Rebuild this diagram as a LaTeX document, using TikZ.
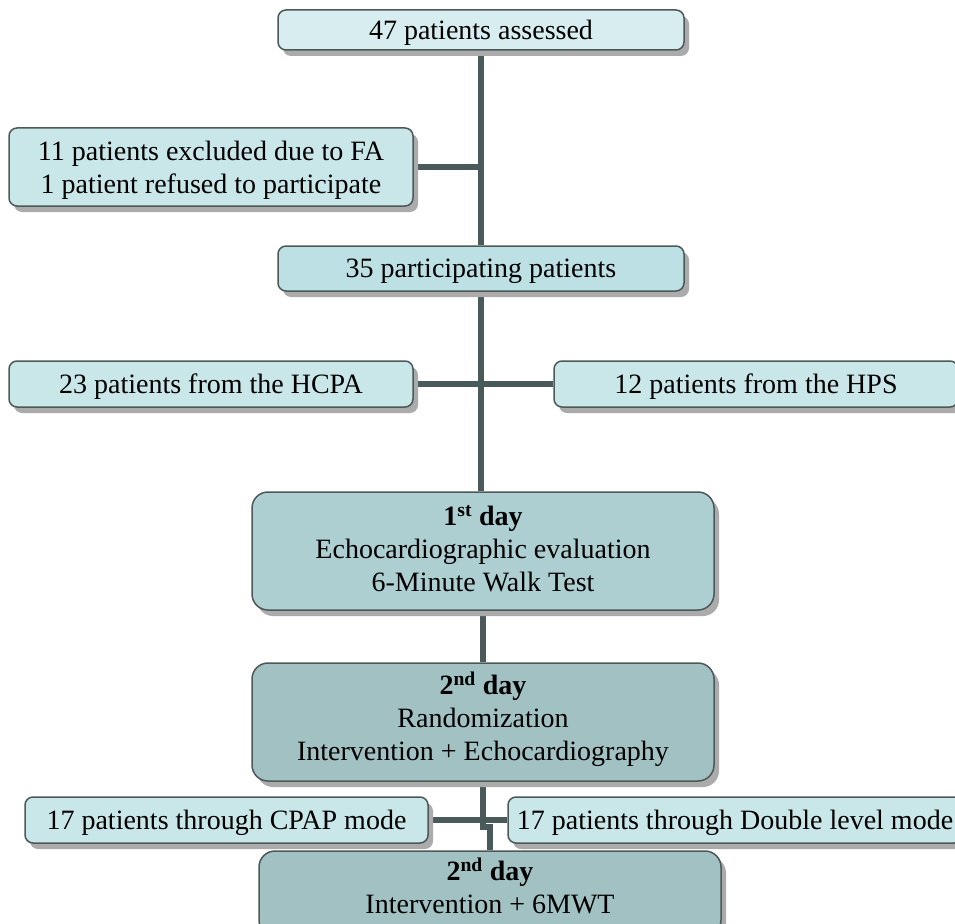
\documentclass[tikz,border=0pt]{standalone}
\usepackage{fontspec}
\setmainfont{Liberation Serif}
\usetikzlibrary{shadows,backgrounds}
\definecolor{edge}{HTML}{4D5858}
\definecolor{linkcol}{HTML}{4A5959}
\definecolor{shade}{HTML}{ABABAB}
\definecolor{fillA}{HTML}{D8EDF0}
\definecolor{fillB}{HTML}{C9E6E9}
\definecolor{fillC}{HTML}{BCE0E3}
\definecolor{fillD}{HTML}{ADCFD2}
\definecolor{fillE}{HTML}{A2C1C3}
\begin{document}
\begin{tikzpicture}[x=1pt,y=-1pt,
  box/.style={draw=edge,line width=1.5pt,rounded corners=8pt,inner sep=0pt,align=center,
    text depth=0pt,font=\fontsize{28}{33}\selectfont,
    drop shadow={shadow xshift=5pt,shadow yshift=-6pt,fill=shade,opacity=1}},
  daybox/.style={box,rounded corners=16pt,minimum width=462pt},
  link/.style={draw=linkcol,line width=5.5pt}]
\clip (0,0) rectangle (955,923);
\node[box,fill=fillA,minimum width=406pt,minimum height=40pt] (assessed) at (481,30) {47 patients assessed};
\node[box,fill=fillB,minimum width=404pt,minimum height=78pt] (excluded) at (211,167) {11 patients excluded due to FA\\1 patient refused to participate};
\node[box,fill=fillC,minimum width=406pt,minimum height=45pt] (particip) at (481,268.5) {35 participating patients};
\node[box,fill=fillB,minimum width=404pt,minimum height=46pt] (hcpa) at (211,384) {23 patients from the HCPA};
\node[box,fill=fillB,minimum width=404pt,minimum height=46pt] (hps) at (756,384) {12 patients from the HPS};
\node[daybox,fill=fillD,minimum height=118pt,text depth=6pt] (day1) at (483,551) {\textbf{1\textsuperscript{st} day}\\Echocardiographic evaluation\\6-Minute Walk Test};
\node[daybox,fill=fillE,minimum height=118pt,text depth=12pt] (day2) at (483,722) {\textbf{2\textsuperscript{nd} day}\\Randomization\\Intervention + Echocardiography};
\node[box,fill=fillB,minimum width=403pt,minimum height=46pt] (cpap) at (226.5,820) {17 patients through CPAP mode};
\node[box,fill=fillB,minimum width=454pt,minimum height=46pt] (dbl) at (735,820) {17 patients through Double level mode};
\node[daybox,fill=fillE,minimum height=85pt,text depth=16pt] (day2b) at (490,893.5) {\textbf{2\textsuperscript{nd} day}\\Intervention + 6MWT};
\begin{scope}[on background layer]
\draw[link] (assessed.south) -- (particip.north);
\draw[link] (excluded.east) -- (excluded.east -| assessed.south);
\draw[link] (particip.south) -- (particip.south |- day1.north);
\draw[link] (hcpa.east) -- (hps.west);
\draw[link] (day1.south) -- (day2.north);
\draw[link] (day2.south) -- ++(0,45) -| (day2b.north);
\draw[link] (cpap.east) -- (dbl.west);
\end{scope}
\end{tikzpicture}
\end{document}
